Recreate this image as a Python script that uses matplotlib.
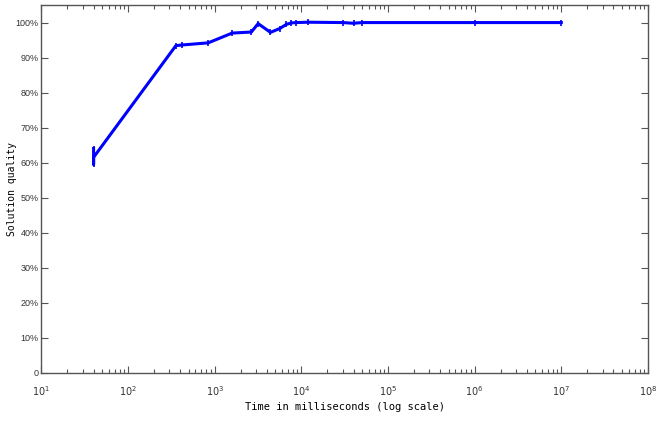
import numpy as np
import matplotlib
matplotlib.use('Agg')
import matplotlib.pyplot as plt
from matplotlib.ticker import FixedLocator, LogLocator, NullFormatter

# Data (time in ms, quality in %)
time_ms = [40, 40, 40, 356, 420, 840, 1590, 2650, 3170, 4400, 5630, 6730,
           7680, 8700, 12000, 30000, 40000, 50000, 1e6, 1e7]
quality = [64.0, 59.5, 61.5, 93.4, 93.6, 94.2, 97.0, 97.3, 99.7, 97.2, 98.3,
           99.5, 99.9, 100.0, 100.1, 100.0, 99.8, 100.0, 100.0, 100.0]

y_ticks = [0, 10, 20, 30, 40, 50, 60, 70, 80, 90, 100]
y_labels = ['0'] + [f'{v}%' for v in y_ticks[1:]]

fig = plt.figure(figsize=(6.68, 4.22), dpi=100)
ax = fig.add_axes([0.062, 0.117, 0.908, 0.871])

ax.plot(time_ms, quality, color='#0000ff', linewidth=2.2,
        marker='|', markersize=4, markeredgewidth=1.2)

ax.set_xscale('log')
ax.set_xlim(1e1, 1e8)
ax.set_ylim(0, 105)

ax.xaxis.set_major_locator(LogLocator(base=10, numticks=10))
ax.xaxis.set_minor_locator(LogLocator(base=10, subs=np.arange(2, 10), numticks=100))
ax.xaxis.set_minor_formatter(NullFormatter())
ax.yaxis.set_major_locator(FixedLocator(y_ticks))
ax.set_yticklabels(y_labels, family='Liberation Sans', fontsize=6.5)

edge = '#555555'
for s in ax.spines.values():
    s.set_color(edge)
    s.set_linewidth(1.0)

ax.tick_params(which='both', direction='in', top=True, right=True,
               color=edge, labelcolor='#333333', width=0.8)
ax.tick_params(axis='x', labelsize=7)
ax.tick_params(which='major', length=5)
ax.tick_params(which='minor', length=3)
ax.tick_params(axis='x', which='major', pad=8)
ax.tick_params(axis='y', which='major', pad=2)

ax.set_xlabel('Time in milliseconds (log scale)', family='DejaVu Sans Mono',
              fontsize=7.5, labelpad=3)
ax.set_ylabel('Solution quality', family='DejaVu Sans Mono', fontsize=7)
ax.yaxis.set_label_coords(-0.040, 0.5)

fig.savefig('out.png', dpi=100, facecolor='white')
